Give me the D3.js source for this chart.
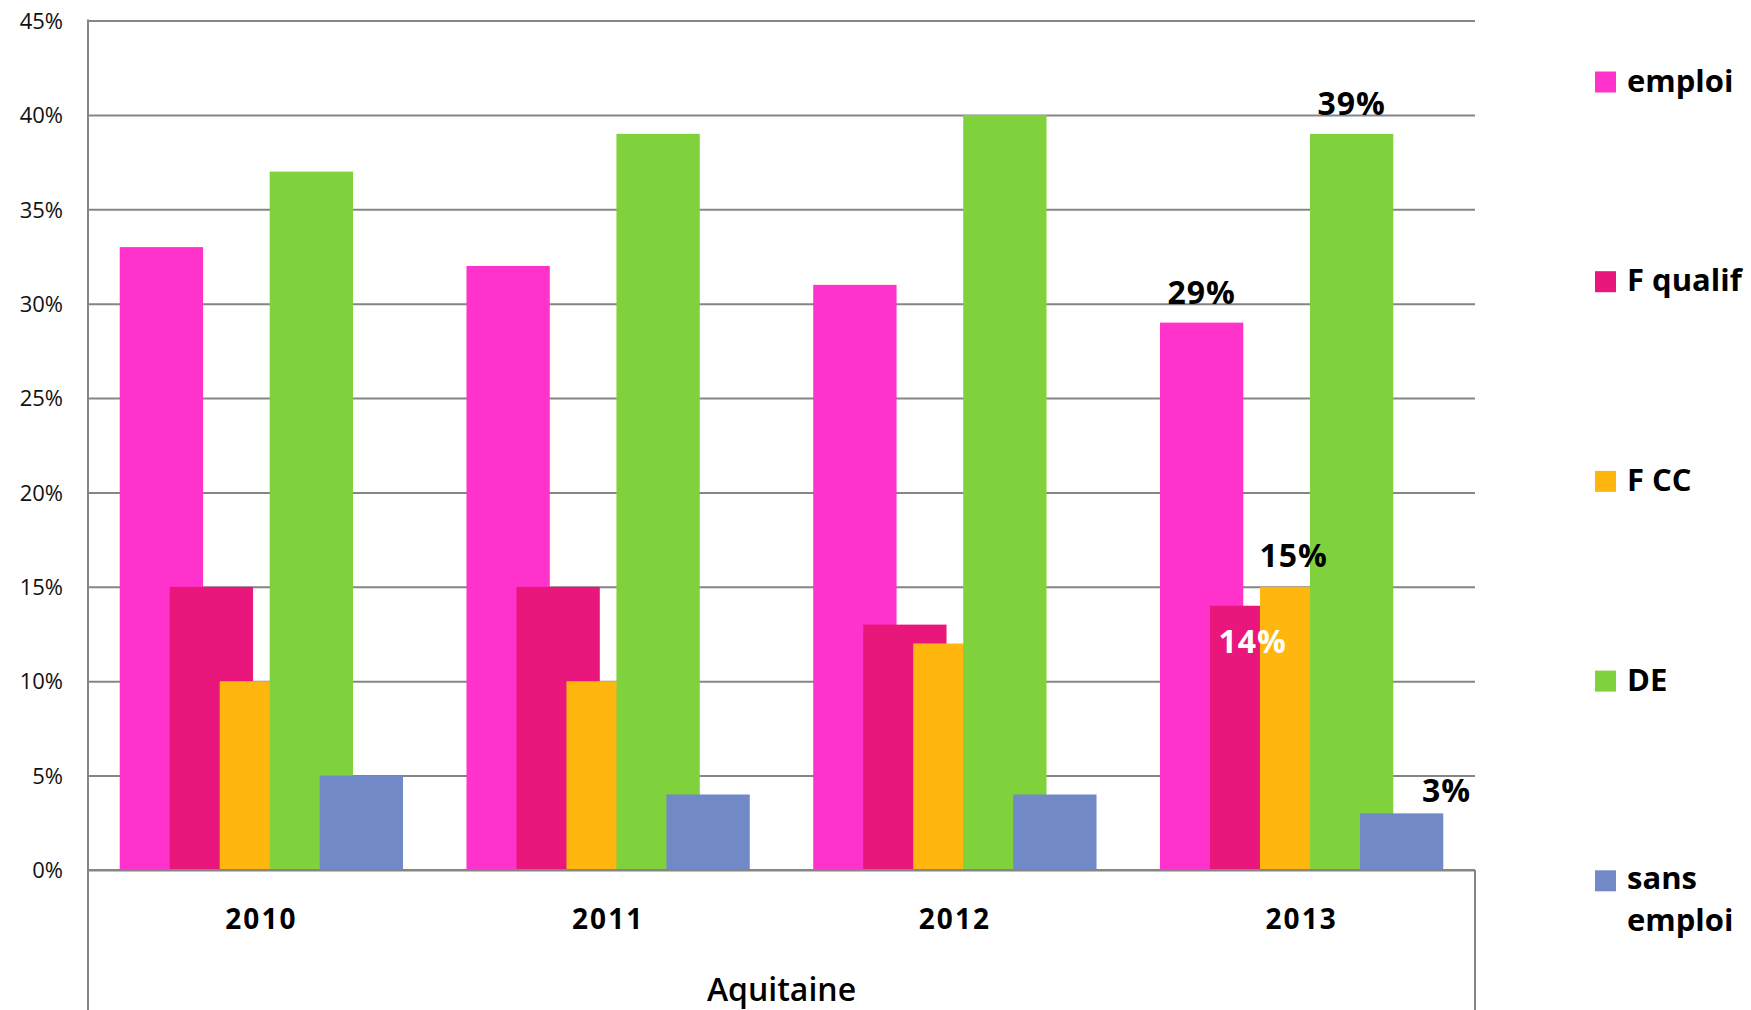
<!DOCTYPE html>
<html>
<head>
<meta charset="utf-8">
<script src="https://cdn.jsdelivr.net/npm/d3@7"></script>
<style>
  body { margin: 0; background: #fff; }
  svg { display: block; font-family: "Open Sans", sans-serif; }
</style>
</head>
<body>
<div id="chart"></div>
<script>
// data
var years = ["2010", "2011", "2012", "2013"];
var seriesNames = ["emploi", "F qualif", "F CC", "DE", "sans emploi"];
var emploi     = [0.33, 0.32, 0.31, 0.29];
var fQualif    = [0.15, 0.15, 0.13, 0.14];
var fCC        = [0.10, 0.10, 0.12, 0.15];
var de         = [0.37, 0.39, 0.40, 0.39];
var sansEmploi = [0.05, 0.04, 0.04, 0.03];
var yTicks = [0, 0.05, 0.10, 0.15, 0.20, 0.25, 0.30, 0.35, 0.40, 0.45];
var axisTitle = "Aquitaine";
var labelledYear = "2013";   // only this year carries data labels

var colors = ["#ff33cc", "#e9177c", "#ffb60f", "#7fd23b", "#7189c7"];
var values = [emploi, fQualif, fCC, de, sansEmploi];

var W = 1751, H = 1010;
var left = 88, right = 1475, top0 = 20.6, base = 870;

var svg = d3.select("#chart").append("svg")
    .attr("width", W)
    .attr("height", H);

var x0 = d3.scaleBand().domain(years).range([left, right]);
var y = d3.scaleLinear().domain([0, 0.45]).range([base, top0]);

// bars overlap: each bar is 1/0.6 of the step between them
var groupW = x0.bandwidth() * 0.817;
var barW = groupW / (1 + (seriesNames.length - 1) * 0.6);
var step = barW * 0.6;
var xs = d3.scaleLinear().domain([0, seriesNames.length - 1])
    .range([(x0.bandwidth() - groupW) / 2, (x0.bandwidth() - groupW) / 2 + step * (seriesNames.length - 1)]);

// gridlines
svg.append("g")
    .attr("class", "grid")
    .attr("transform", "translate(" + left + ",0)")
    .call(d3.axisLeft(y).tickValues(yTicks).tickSize(-(right - left)).tickFormat(""))
    .call(function (g) { g.select(".domain").remove(); })
    .selectAll("line")
    .attr("stroke", "#858585")
    .attr("stroke-width", 2);

// y labels
svg.append("g")
    .attr("transform", "translate(" + left + ",0)")
    .call(d3.axisLeft(y).tickValues(yTicks).tickSize(0).tickPadding(25).tickFormat(d3.format(".0%")))
    .call(function (g) { g.select(".domain").remove(); })
    .selectAll("text")
    .attr("font-family", "Open Sans, sans-serif")
    .attr("font-size", 22)
    .attr("fill", "#111")
    .attr("dy", "0.35em");

// bars, later series on top
values.forEach(function (vals, si) {
  svg.append("g")
    .attr("class", "series")
    .selectAll("rect")
    .data(vals)
    .enter().append("rect")
    .attr("x", function (d, i) { return x0(years[i]) + xs(si); })
    .attr("y", function (d) { return y(d); })
    .attr("width", barW)
    .attr("height", function (d) { return y(0) - y(d); })
    .attr("fill", colors[si]);
});

// frame of plot / category axis box
svg.append("line").attr("x1", left).attr("x2", left).attr("y1", top0 - 1).attr("y2", H)
    .attr("stroke", "#858585").attr("stroke-width", 2);
svg.append("line").attr("x1", left).attr("x2", right).attr("y1", base).attr("y2", base)
    .attr("stroke", "#858585").attr("stroke-width", 2);
svg.append("line").attr("x1", right).attr("x2", right).attr("y1", base).attr("y2", H)
    .attr("stroke", "#858585").attr("stroke-width", 2);

// category labels
svg.append("g")
    .attr("transform", "translate(0," + base + ")")
    .call(d3.axisBottom(x0).tickSize(0))
    .call(function (g) { g.select(".domain").remove(); })
    .selectAll("text")
    .attr("y", 59)
    .attr("dy", null)
    .attr("font-family", "Open Sans, sans-serif")
    .attr("font-size", 28)
    .attr("font-weight", 700)
    .attr("letter-spacing", 2)
    .attr("fill", "#000");

svg.append("text")
    .attr("x", (left + right) / 2)
    .attr("y", 1001)
    .attr("text-anchor", "middle")
    .attr("font-size", 32)
    .attr("font-weight", 600)
    .attr("fill", "#000")
    .text(axisTitle);

// data labels for the last year (some were nudged by hand in the original)
var nudge = { "F qualif": [1, 47, "#fff"], "F CC": [-8, -20, "#000"], "sans emploi": [45, -11, "#000"] };
var yi = years.indexOf(labelledYear);
values.forEach(function (vals, si) {
  var n = nudge[seriesNames[si]] || [0, -19, "#000"];
  svg.append("text")
    .attr("x", x0(labelledYear) + xs(si) + barW / 2 + n[0])
    .attr("y", y(vals[yi]) + n[1])
    .attr("text-anchor", "middle")
    .attr("font-size", 32)
    .attr("font-weight", 700)
    .attr("letter-spacing", 1)
    .attr("fill", n[2])
    .text(d3.format(".0%")(vals[yi]));
});

// legend
var legend = svg.append("g").attr("class", "legend");
seriesNames.forEach(function (name, i) {
  var cy = 82 + i * 199.7;
  legend.append("rect")
    .attr("x", 1595).attr("y", cy - 10.5)
    .attr("width", 21).attr("height", 21)
    .attr("fill", colors[i]);
  var t = legend.append("text")
    .attr("x", 1627).attr("y", cy + 9.5)
    .attr("font-size", 31)
    .attr("font-weight", 700)
    .attr("fill", "#000")
    .text(name);
  if (t.node().getComputedTextLength() > W - 1627) {
    var words = name.split(" ");
    t.text(null);
    words.forEach(function (w, k) {
      t.append("tspan").attr("x", 1627).attr("y", cy + 8 + k * 42).text(w);
    });
  }
});
</script>
</body>
</html>
